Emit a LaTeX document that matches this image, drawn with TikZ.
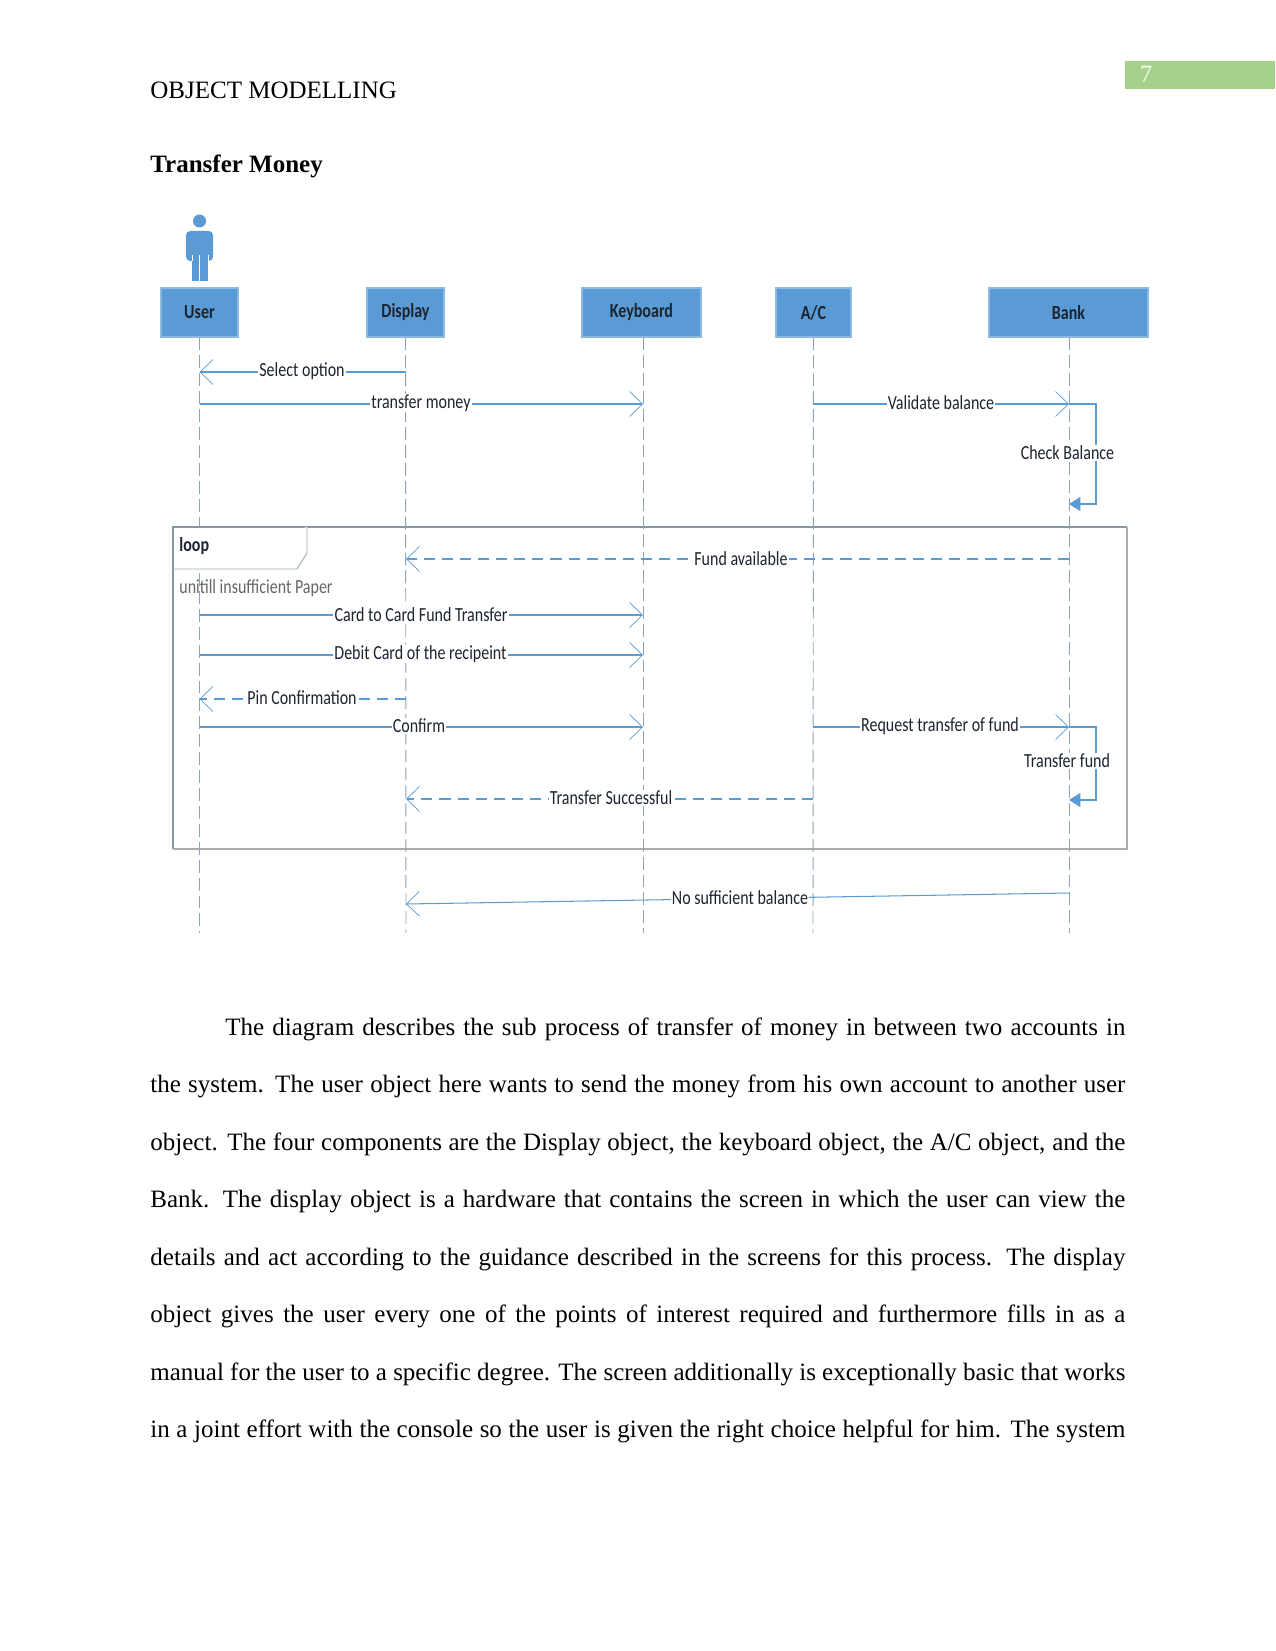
\documentclass[tikz,border=0pt]{standalone}
\usepackage{fontspec}
\usetikzlibrary{arrows.meta}
\setmainfont{Liberation Serif}
\newfontfamily\seqfont[FakeStretch=0.8]{Carlito}
\newfontfamily\seqbold[FakeStretch=0.8]{Carlito Bold}
\definecolor{seqblue}{HTML}{5B9BD5}
\definecolor{lifegray}{HTML}{8CA3B8}
\definecolor{framegray}{HTML}{8497A6}
\definecolor{inkdark}{HTML}{1C2430}
\definecolor{pagegreen}{HTML}{A8D08D}
\tikzset{
  x=0.48pt,y=-0.48pt,
  head/.style={draw=seqblue!70!white,line width=0.5pt,fill=seqblue,minimum height={49*0.48pt},inner sep=0pt,
    font=\seqbold\fontsize{9.6pt}{11pt}\selectfont,text=inkdark},
  lifeline/.style={draw=lifegray,line width=0.45pt,dash pattern=on 6.2pt off 2.4pt},
  msg/.style={draw=seqblue,line width=0.5pt,-{Straight Barb[length=6.2pt,width=12pt,line width=0.35pt]}},
  msgplain/.style={draw=seqblue,line width=0.5pt},
  reply/.style={msg,dash pattern=on 5.3pt off 3.4pt},
  selfmsg/.style={draw=seqblue,line width=0.5pt,-{Triangle[length=5.5pt,width=6.8pt]}},
  lab/.style={fill=white,inner xsep=0.6pt,inner ysep=0.4pt,font=\seqfont\fontsize{9.6pt}{11pt}\selectfont,text=inkdark},
  para/.style={anchor=base west,inner sep=0pt,font=\fontsize{12pt}{14pt}\selectfont,text=black},
}
\newcommand{\fullline}[1]{\makebox[468pt][s]{#1}}
\newcommand{\firstline}[1]{\makebox[432pt][s]{#1}}
\begin{document}
\begin{tikzpicture}
\useasboundingbox (0,0) rectangle (1275,1651);

% running head
\fill[pagegreen] (1125,61) rectangle (1275,89);
\node[anchor=base,inner sep=0pt,font=\fontsize{12pt}{14pt}\selectfont,text=white!85!pagegreen] (pagenum) at (1146,83) {7};
\node[para] (runhead) at (150,99) {OBJECT MODELLING};
\node[para,font=\bfseries\fontsize{12pt}{14pt}\selectfont] (title) at (150,173) {Transfer Money};

% actor figure
\fill[seqblue] (199.5,221) circle (6.5);
\fill[seqblue,rounded corners=2pt] (186,231) rectangle (213,261);
\fill[seqblue] (192,245) rectangle (208,281);
\draw[white,line width=0.35pt] (192,255) -- (192,261) (208,255) -- (208,261) (199.5,255) -- (199.5,281);

% combined fragment frame
\draw[draw=framegray,line width=0.5pt] (173,849) -- (173,527) -- (1127,527);
\draw[draw=gray!65,line width=0.7pt] (1127,527) -- (1127,849) -- (173,849);
\draw[draw=framegray!80,line width=0.45pt,fill=white] (173,569) -- (297,569) -- (307,553) -- (307,527);

% object heads
\node[head,minimum width={77*0.48pt}] (user) at (199.5,312.5) {User};
\node[head,minimum width={77*0.48pt}] (display) at (405.5,312.5) {Display};
\node[head,minimum width={119*0.48pt}] (keyboard) at (641.5,312.5) {Keyboard};
\node[head,minimum width={75*0.48pt}] (ac) at (813.5,312.5) {A/C};
\node[head,minimum width={159*0.48pt}] (bank) at (1068.5,312.5) {Bank};

% lifelines
\coordinate (userA) at (199.5,527);
\coordinate (userB) at (199.5,573);
\coordinate (userEnd) at (199.5,933);
\coordinate (displayEnd) at (406,933);
\coordinate (keyTop) at (643,337);
\coordinate (keyEnd) at (643,933);
\coordinate (acEnd) at (813,933);
\coordinate (bankTop) at (1069,337);
\coordinate (bankEnd) at (1069,933);
\draw[lifeline] (user.south) -- (userA);
\draw[lifeline] (userB) -- (userEnd);
\draw[lifeline] (display.south) -- (displayEnd);
\draw[lifeline] (keyTop) -- (keyEnd);
\draw[lifeline] (ac.south) -- (acEnd);
\draw[lifeline] (bankTop) -- (bankEnd);

% message end points
\coordinate (selA) at (406,372);   \coordinate (selB) at (199.5,372);
\coordinate (tmA) at (199.5,404);  \coordinate (tmB) at (643,404);
\coordinate (vbA) at (813,404);    \coordinate (vbB) at (1069,404);
\coordinate (cbC) at (1096,404);   \coordinate (cbD) at (1096,504);  \coordinate (cbE) at (1069,504);
\coordinate (faA) at (1069,559);   \coordinate (faB) at (406,559);
\coordinate (ccA) at (199.5,615);  \coordinate (ccB) at (643,615);
\coordinate (dcA) at (199.5,655);  \coordinate (dcB) at (643,655);
\coordinate (pcA) at (406,699);    \coordinate (pcB) at (199.5,699);
\coordinate (cfA) at (199.5,727);  \coordinate (cfB) at (643,727);
\coordinate (rtA) at (813,727);    \coordinate (rtB) at (1069,727);
\coordinate (tfC) at (1096,727);   \coordinate (tfD) at (1096,800);  \coordinate (tfE) at (1069,800);
\coordinate (tsA) at (813,799);    \coordinate (tsB) at (406,799);
\coordinate (nsA) at (1069,893);   \coordinate (nsB) at (406,904);

% messages
\draw[msg] (selA) -- (selB);
\draw[msg] (tmA) -- (tmB);
\draw[msg] (vbA) -- (vbB);
\draw[selfmsg] (vbB) -- (cbC) -- (cbD) -- (cbE);
\draw[reply] (faA) -- (faB);
\draw[msg] (ccA) -- (ccB);
\draw[msg] (dcA) -- (dcB);
\draw[reply] (pcA) -- (pcB);
\draw[msg] (cfA) -- (cfB);
\draw[msg] (rtA) -- (rtB);
\draw[selfmsg] (rtB) -- (tfC) -- (tfD) -- (tfE);
\draw[reply] (tsA) -- (tsB);
\draw[msg] (nsA) -- (nsB);

% message labels
\node[lab] (lsel) at (302,371) {Select option};
\node[lab] (ltm) at (421,403) {transfer money};
\node[lab] (lvb) at (941,403) {Validate balance};
\node[lab] (lcb) at (1067.5,453) {Check Balance};
\node[lab] (lfa) at (741,559) {Fund available};
\node[lab] (lcc) at (421,615) {Card to Card Fund Transfer};
\node[lab] (ldc) at (420.5,654) {Debit Card of the recipeint};
\node[lab] (lpc) at (302,698) {Pin Confirmation};
\node[lab] (lcf) at (419,726) {Confirm};
\node[lab] (lrt) at (940,726) {Request transfer of fund};
\node[lab] (ltf) at (1067,761) {Transfer fund};
\node[lab] (lts) at (611,798) {Transfer Successful};
\node[lab] (lns) at (740,898) {No sufficient balance};

% fragment captions
\node[anchor=west,inner sep=0pt,font=\seqbold\fontsize{9.6pt}{11pt}\selectfont,text=inkdark] (lloop) at (179,546) {loop};
\node[anchor=west,inner sep=0pt,font=\seqfont\fontsize{9.6pt}{11pt}\selectfont,text=black!60] (lguard) at (179,588) {unitill insufficient Paper};

% body text
\node[para] (p1) at (225,1035) {\firstline{The diagram describes the sub process of transfer of money in between two accounts in}};
\node[para] (p2) at (150,1092.5) {\fullline{the system. The user object here wants to send the money from his own account to another user}};
\node[para] (p3) at (150,1150) {\fullline{object. The four components are the Display object, the keyboard object, the A/C object, and the}};
\node[para] (p4) at (150,1207.5) {\fullline{Bank. The display object is a hardware that contains the screen in which the user can view the}};
\node[para] (p5) at (150,1265) {\fullline{details and act according to the guidance described in the screens for this process. The display}};
\node[para] (p6) at (150,1322.5) {\fullline{object gives the user every one of the points of interest required and furthermore fills in as a}};
\node[para] (p7) at (150,1380) {\fullline{manual for the user to a specific degree. The screen additionally is exceptionally basic that works}};
\node[para] (p8) at (150,1437.5) {\fullline{in a joint effort with the console so the user is given the right choice helpful for him. The system}};
\end{tikzpicture}
\end{document}
